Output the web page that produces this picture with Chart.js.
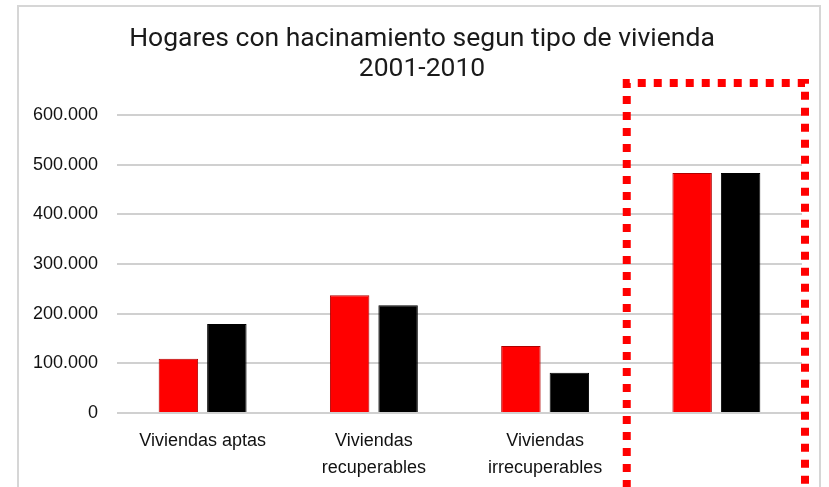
<!DOCTYPE html>
<html>
<head>
<meta charset="utf-8">
<script src="https://cdn.jsdelivr.net/npm/chart.js@4"></script>
<style>
  html, body { margin: 0; padding: 0; background: #fff; }
  canvas { display: block; }
</style>
</head>
<body>
<canvas id="chart-hacinamiento" width="829" height="487"></canvas>
<script>
// values
const categories = [['Viviendas aptas'], ['Viviendas', 'recuperables'], ['Viviendas', 'irrecuperables'], ''];
const seriesNames = ['2001', '2010'];
const values2001 = [109000, 237000, 135000, 483000];
const values2010 = [179000, 217000, 81000, 483000];
const titleLines = ['Hogares con hacinamiento segun tipo de vivienda', '2001-2010'];
const yTicks = [0, 100000, 200000, 300000, 400000, 500000, 600000];

const fmt = v => String(v).replace(/\B(?=(\d{3})+(?!\d))/g, '.');

// light frame round the whole chart, like the spreadsheet export
const frame = {
    id: 'frame',
    beforeDraw(chart) {
        const c = chart.ctx;
        c.save();
        c.strokeStyle = '#d6d6d6';
        c.lineWidth = 2;
        c.strokeRect(18, 6, 802, 520);
        c.restore();
    }
};

// title sits a bit right of the canvas centre in the original
const titleShift = {
    id: 'titleShift',
    afterLayout(chart) {
        const t = chart.titleBlock;
        if (t) { t.left += 42; }
    }
};

// red dotted highlight round the last group
const highlight = {
    id: 'highlight',
    afterDraw(chart) {
        const x = chart.scales.x;
        const half = (x.getPixelForValue(1) - x.getPixelForValue(0)) / 2;
        const mid = x.getPixelForValue(3);
        const left = mid - half - 4;
        const right = mid + half + 3;
        const top = 83;
        const c = chart.ctx;
        c.save();
        c.strokeStyle = '#ff0000';
        c.lineWidth = 8;
        c.setLineDash([8, 8]);
        c.beginPath();
        c.moveTo(left, 520);
        c.lineTo(left, top);
        c.lineTo(right, top);
        c.lineTo(right, 520);
        c.stroke();
        c.restore();
    }
};

const ctx = document.getElementById('chart-hacinamiento');
new Chart(ctx, {
    type: 'bar',
    data: {
        labels: categories,
        datasets: [{
            label: seriesNames[0],
            data: values2001,
            backgroundColor: '#ff0000',
            borderColor: '#b00000',
            borderWidth: 1
        }, {
            label: seriesNames[1],
            data: values2010,
            backgroundColor: '#000000',
            borderColor: '#000000',
            borderWidth: 1
        }]
    },
    options: {
        responsive: false,
        animation: false,
        categoryPercentage: 0.566,
        barPercentage: 0.814,
        layout: { padding: { left: 0, right: 27, top: 0, bottom: 0 } },
        plugins: {
            legend: { display: false },
            tooltip: { enabled: false },
            title: {
                display: true,
                text: titleLines,
                color: '#1a1a1a',
                font: { family: 'Roboto', size: 26.5, weight: 'normal', lineHeight: 1.13 },
                padding: { top: 24, bottom: 31 }
            }
        },
        scales: {
            x: {
                grid: { display: false },
                border: { display: false },
                ticks: {
                    color: '#111',
                    padding: 7,
                    maxRotation: 0,
                    autoSkip: false,
                    font: { family: "'Liberation Sans', Arial, sans-serif", size: 18, lineHeight: 1.5 }
                },
                afterFit: s => { s.height = 74; }
            },
            y: {
                min: 0,
                max: 600000,
                afterBuildTicks: s => { s.ticks = yTicks.map(v => ({ value: v })); },
                grid: { color: '#d0d0d0', lineWidth: 2, drawTicks: false },
                border: { display: false },
                ticks: {
                    color: '#111',
                    padding: 19,
                    font: { family: "'Liberation Sans', Arial, sans-serif", size: 18 },
                    callback: v => fmt(v)
                },
                afterFit: s => { s.width = 117; }
            }
        }
    },
    plugins: [frame, titleShift, highlight]
});
</script>
</body>
</html>
